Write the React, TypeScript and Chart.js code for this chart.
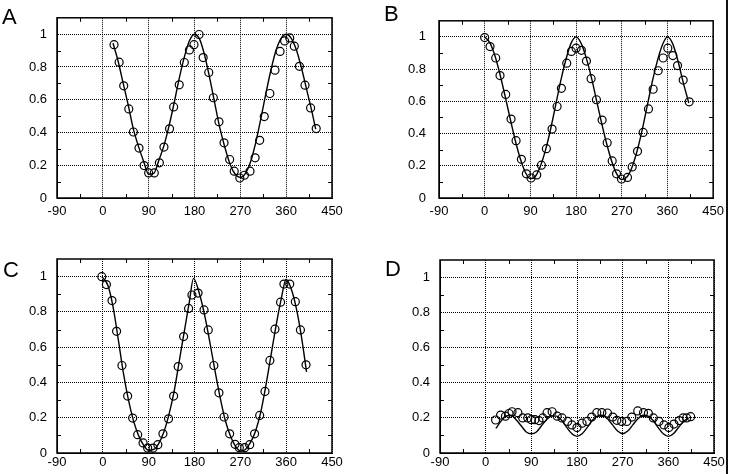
import React, { useEffect, useRef } from 'react';
import { Chart, registerables } from 'chart.js';

Chart.register(...registerables);

// ---------- axes ----------
const xTicks = [-90, 0, 90, 180, 270, 360, 450];
const xMinorTicks = [-45, 45, 135, 225, 315, 405];
const yTicks = [0, 0.2, 0.4, 0.6, 0.8, 1];
const yTickLabels = ['0', '0.2', '0.4', '0.6', '0.8', '1'];
const yMinorTicks = [0.1, 0.3, 0.5, 0.7, 0.9];
const X_MIN = -90;
const X_MAX = 450;
const Y_MIN = 0;
const Y_MAX = 1.1;

const panelLabels = ['A', 'B', 'C', 'D'];

// ---------- panel A ----------
const aCircleX = [22, 32, 41, 51, 60, 71, 81, 90, 101, 111, 120, 131, 139, 150, 160, 170, 179, 189, 197, 208, 217, 228, 238, 249, 258, 269, 278, 289, 299, 308, 317, 328, 338, 348, 357, 367, 376, 386, 397, 408, 419];
const aCircleY = [0.936, 0.829, 0.685, 0.544, 0.403, 0.305, 0.198, 0.153, 0.153, 0.215, 0.311, 0.422, 0.556, 0.691, 0.827, 0.904, 0.936, 0.998, 0.857, 0.766, 0.612, 0.465, 0.337, 0.235, 0.164, 0.122, 0.139, 0.164, 0.245, 0.352, 0.497, 0.638, 0.78, 0.895, 0.959, 0.977, 0.927, 0.804, 0.689, 0.55, 0.424];
const aLineX = [20, 30, 40, 50, 60, 70, 80, 90, 100, 110, 120, 130, 140, 150, 160, 170, 180, 190, 200, 210, 220, 230, 240, 250, 260, 270, 280, 290, 300, 310, 320, 330, 340, 350, 360, 370, 380, 390, 400, 410, 418];
const aLineY = [0.945, 0.835, 0.7, 0.565, 0.42, 0.315, 0.225, 0.145, 0.15, 0.23, 0.32, 0.44, 0.58, 0.73, 0.86, 0.96, 1.0, 0.97, 0.87, 0.73, 0.575, 0.425, 0.305, 0.205, 0.145, 0.125, 0.15, 0.22, 0.335, 0.48, 0.635, 0.78, 0.9, 0.975, 1.0, 0.975, 0.905, 0.795, 0.665, 0.535, 0.42];

// ---------- panel B ----------
const bCircleX = [0, 10.5, 21.7, 30.2, 41.4, 51.9, 61.8, 72.3, 82.1, 91.3, 102.5, 111.7, 121.5, 132.7, 142.6, 151.1, 161.6, 170.8, 180, 190.5, 200.4, 209.6, 220.1, 231.3, 241.2, 251.1, 259.7, 269.5, 281.3, 290.5, 301, 312.1, 322.6, 331.8, 341.7, 351.5, 360.7, 370.6, 379.8, 391, 402.8];
const bCircleY = [0.996, 0.94, 0.869, 0.76, 0.643, 0.49, 0.356, 0.24, 0.15, 0.124, 0.143, 0.204, 0.306, 0.428, 0.568, 0.681, 0.837, 0.91, 0.93, 0.917, 0.85, 0.741, 0.61, 0.484, 0.343, 0.23, 0.15, 0.118, 0.128, 0.193, 0.29, 0.407, 0.553, 0.675, 0.79, 0.869, 0.93, 0.884, 0.822, 0.732, 0.597];
const bLineX = [0, 10, 20, 30, 40, 50, 60, 70, 80, 90, 100, 110, 120, 130, 140, 150, 160, 170, 180, 190, 200, 210, 220, 230, 240, 250, 260, 270, 280, 290, 300, 310, 320, 330, 340, 350, 360, 370, 380, 390, 402];
const bLineY = [1.0, 0.965, 0.885, 0.77, 0.635, 0.495, 0.36, 0.245, 0.16, 0.12, 0.135, 0.2, 0.3, 0.43, 0.58, 0.73, 0.86, 0.96, 1.0, 0.96, 0.87, 0.75, 0.61, 0.47, 0.34, 0.23, 0.15, 0.115, 0.13, 0.19, 0.29, 0.42, 0.57, 0.72, 0.85, 0.95, 1.0, 0.96, 0.86, 0.73, 0.59];

// ---------- panel C ----------
const cCircleX = [-2, 7, 18, 27, 37.5, 48.7, 58.6, 68.4, 79, 88, 98.7, 108, 118, 129, 139, 148, 158.6, 168.4, 175, 187, 198.7, 207, 218, 228, 238, 249, 259.6, 268, 278.6, 288.4, 298, 308, 318.4, 328, 338, 349, 355.6, 367, 378, 388, 399];
const cCircleY = [1.0, 0.955, 0.864, 0.69, 0.496, 0.323, 0.198, 0.104, 0.057, 0.028, 0.028, 0.047, 0.109, 0.194, 0.323, 0.49, 0.66, 0.82, 0.896, 0.907, 0.811, 0.698, 0.496, 0.341, 0.204, 0.109, 0.049, 0.03, 0.03, 0.047, 0.109, 0.213, 0.349, 0.525, 0.702, 0.855, 0.958, 0.958, 0.858, 0.698, 0.5];
const cLineX = [-2, 10, 20, 30, 40, 50, 60, 70, 80, 90, 100, 110, 120, 130, 140, 150, 160, 170, 178, 190, 200, 210, 220, 230, 240, 250, 260, 270, 280, 290, 300, 310, 320, 330, 340, 350, 360, 370, 380, 390, 400];
const cLineY = [1.0, 0.95, 0.83, 0.65, 0.46, 0.305, 0.185, 0.1, 0.045, 0.015, 0.02, 0.055, 0.12, 0.22, 0.35, 0.52, 0.69, 0.86, 0.99, 0.9, 0.78, 0.63, 0.47, 0.32, 0.19, 0.1, 0.04, 0.012, 0.02, 0.06, 0.125, 0.23, 0.38, 0.55, 0.72, 0.87, 0.985, 0.93, 0.82, 0.66, 0.46];

// ---------- panel D ----------
const dCircleX = [19.6, 29.5, 39, 46, 52, 63.5, 73, 83, 90, 97, 105, 112.6, 121, 131, 141, 150.5, 161.6, 170, 180, 190, 199.6, 209, 219, 229, 240, 250.6, 258.5, 268, 278, 288, 299.7, 311, 320.7, 330.5, 341.6, 351.4, 361, 371, 381.5, 389, 396, 404];
const dCircleY = [0.188, 0.216, 0.21, 0.225, 0.235, 0.23, 0.2, 0.2, 0.19, 0.19, 0.185, 0.2, 0.23, 0.235, 0.21, 0.2, 0.18, 0.16, 0.145, 0.17, 0.18, 0.205, 0.23, 0.23, 0.228, 0.205, 0.186, 0.18, 0.18, 0.205, 0.24, 0.23, 0.226, 0.2, 0.18, 0.16, 0.145, 0.165, 0.185, 0.2, 0.2, 0.207];
const dLineX = [20, 30, 40, 50, 60, 70, 80, 90, 100, 110, 120, 130, 140, 150, 160, 170, 180, 190, 200, 210, 220, 230, 240, 250, 260, 270, 280, 290, 300, 310, 320, 330, 340, 350, 360, 370, 380, 390, 400];
const dLineY = [0.14, 0.18, 0.21, 0.215, 0.19, 0.155, 0.12, 0.11, 0.12, 0.155, 0.19, 0.21, 0.21, 0.185, 0.145, 0.11, 0.095, 0.11, 0.145, 0.185, 0.21, 0.215, 0.195, 0.16, 0.125, 0.11, 0.125, 0.16, 0.195, 0.215, 0.21, 0.185, 0.145, 0.11, 0.095, 0.11, 0.145, 0.18, 0.2];

const FONT = "'Liberation Sans', Arial, Helvetica, sans-serif";

type Geo = {
  left: number; top: number; w: number; h: number;
  yAxisW: number; xAxisH: number; padTop: number; padRight: number;
  xPad: number; yPad: number;
  labelLeft: number; labelTop: number;
};

const framePlugin = {
  id: 'frameTicks',
  afterDatasetsDraw(chart: any) {
    const { ctx, chartArea } = chart;
    const xs = chart.scales.x;
    const ys = chart.scales.y;
    const { left, right, top, bottom } = chartArea;
    ctx.save();
    ctx.strokeStyle = '#000';
    ctx.lineWidth = 1;
    ctx.setLineDash([]);
    ctx.beginPath();
    const tl = 4;
    for (const v of xMinorTicks) {
      const px = Math.round(xs.getPixelForValue(v)) + 0.5;
      ctx.moveTo(px, bottom); ctx.lineTo(px, bottom - tl);
      ctx.moveTo(px, top); ctx.lineTo(px, top + tl);
    }
    for (const v of yMinorTicks) {
      const py = Math.round(ys.getPixelForValue(v)) + 0.5;
      ctx.moveTo(left, py); ctx.lineTo(left + tl, py);
      ctx.moveTo(right, py); ctx.lineTo(right - tl, py);
    }
    ctx.stroke();
    ctx.lineWidth = 1.5;
    ctx.strokeRect(left, top, right - left, bottom - top);
    ctx.restore();
  },
};

function Panel(props: {
  label: string; geo: Geo;
  circleX: number[]; circleY: number[]; lineX: number[]; lineY: number[];
}) {
  const ref = useRef<HTMLCanvasElement | null>(null);
  const { geo } = props;
  useEffect(() => {
    if (!ref.current) return;
    const lineData = props.lineX.map((x, i) => ({ x, y: props.lineY[i] }));
    const circleData = props.circleX.map((x, i) => ({ x, y: props.circleY[i] }));
    const chart = new Chart(ref.current, {
      type: 'scatter',
      data: {
        datasets: [
          {
            label: 'model',
            data: lineData,
            showLine: true,
            borderColor: '#000',
            borderWidth: 1.4,
            pointRadius: 0,
            cubicInterpolationMode: 'monotone',
            fill: false,
          } as any,
          {
            label: 'data',
            data: circleData,
            showLine: false,
            pointStyle: 'circle',
            pointRadius: 4,
            pointBorderWidth: 1.2,
            pointBorderColor: '#000',
            pointBackgroundColor: 'rgba(0,0,0,0)',
            borderColor: '#000',
            backgroundColor: 'rgba(0,0,0,0)',
          } as any,
        ],
      },
      options: {
        animation: false,
        responsive: false,
        maintainAspectRatio: false,
        devicePixelRatio: 1,
        layout: { padding: { top: geo.padTop, right: geo.padRight, left: 0, bottom: 0 } },
        plugins: { legend: { display: false }, tooltip: { enabled: false } },
        scales: {
          x: {
            type: 'linear',
            min: X_MIN,
            max: X_MAX,
            afterBuildTicks: (s: any) => { s.ticks = xTicks.map((v) => ({ value: v })); },
            afterFit: (s: any) => { s.height = geo.xAxisH; },
            ticks: {
              autoSkip: false,
              maxRotation: 0,
              padding: geo.xPad,
              color: '#000',
              font: { family: FONT, size: 13 },
              callback: (v: any) => String(v),
            },
            grid: { display: true, color: '#000', lineWidth: 1, drawTicks: false },
            border: { display: true, color: '#000', width: 1, dash: [1, 1] },
          },
          y: {
            type: 'linear',
            min: Y_MIN,
            max: Y_MAX,
            afterBuildTicks: (s: any) => { s.ticks = yTicks.map((v) => ({ value: v })); },
            afterFit: (s: any) => { s.width = geo.yAxisW; },
            ticks: {
              autoSkip: false,
              padding: geo.yPad,
              color: '#000',
              font: { family: FONT, size: 13 },
              callback: (_v: any, i: number) => yTickLabels[i],
            },
            grid: { display: true, color: '#000', lineWidth: 1, drawTicks: false },
            border: { display: true, color: '#000', width: 1, dash: [1, 1] },
          },
        },
      } as any,
      plugins: [framePlugin],
    });
    return () => chart.destroy();
  }, []);
  return (
    <>
      <canvas
        ref={ref}
        width={geo.w}
        height={geo.h}
        style={{ position: 'absolute', left: geo.left, top: geo.top, width: geo.w, height: geo.h }}
      />
      <div
        style={{
          position: 'absolute', left: geo.labelLeft, top: geo.labelTop,
          fontFamily: FONT, fontSize: 22, lineHeight: '22px', color: '#000',
        }}
      >
        {props.label}
      </div>
    </>
  );
}

const geoA: Geo = { left: 0, top: 0, w: 365, h: 237, yAxisW: 57, xAxisH: 39, padTop: 5, padRight: 33, xPad: 6, yPad: 10, labelLeft: 2, labelTop: 6 };
const geoB: Geo = { left: 365, top: 0, w: 365, h: 237, yAxisW: 74, xAxisH: 39, padTop: 3, padRight: 16, xPad: 6, yPad: 13, labelLeft: 384, labelTop: 3 };
const geoC: Geo = { left: 0, top: 237, w: 365, h: 237, yAxisW: 57, xAxisH: 21, padTop: 22, padRight: 33, xPad: 2, yPad: 10, labelLeft: 3, labelTop: 259 };
const geoD: Geo = { left: 365, top: 237, w: 365, h: 237, yAxisW: 75, xAxisH: 21, padTop: 23, padRight: 16, xPad: 2, yPad: 10, labelLeft: 385, labelTop: 258 };

export default function App() {
  return (
    <div style={{ position: 'fixed', left: 0, top: 0, width: 730, height: 474, background: '#fff', overflow: 'hidden' }}>
      <Panel label={panelLabels[0]} geo={geoA} circleX={aCircleX} circleY={aCircleY} lineX={aLineX} lineY={aLineY} />
      <Panel label={panelLabels[1]} geo={geoB} circleX={bCircleX} circleY={bCircleY} lineX={bLineX} lineY={bLineY} />
      <Panel label={panelLabels[2]} geo={geoC} circleX={cCircleX} circleY={cCircleY} lineX={cLineX} lineY={cLineY} />
      <Panel label={panelLabels[3]} geo={geoD} circleX={dCircleX} circleY={dCircleY} lineX={dLineX} lineY={dLineY} />
      <div style={{ position: 'absolute', left: 726, top: 0, width: 2, height: 474, background: '#111' }} />
    </div>
  );
}
